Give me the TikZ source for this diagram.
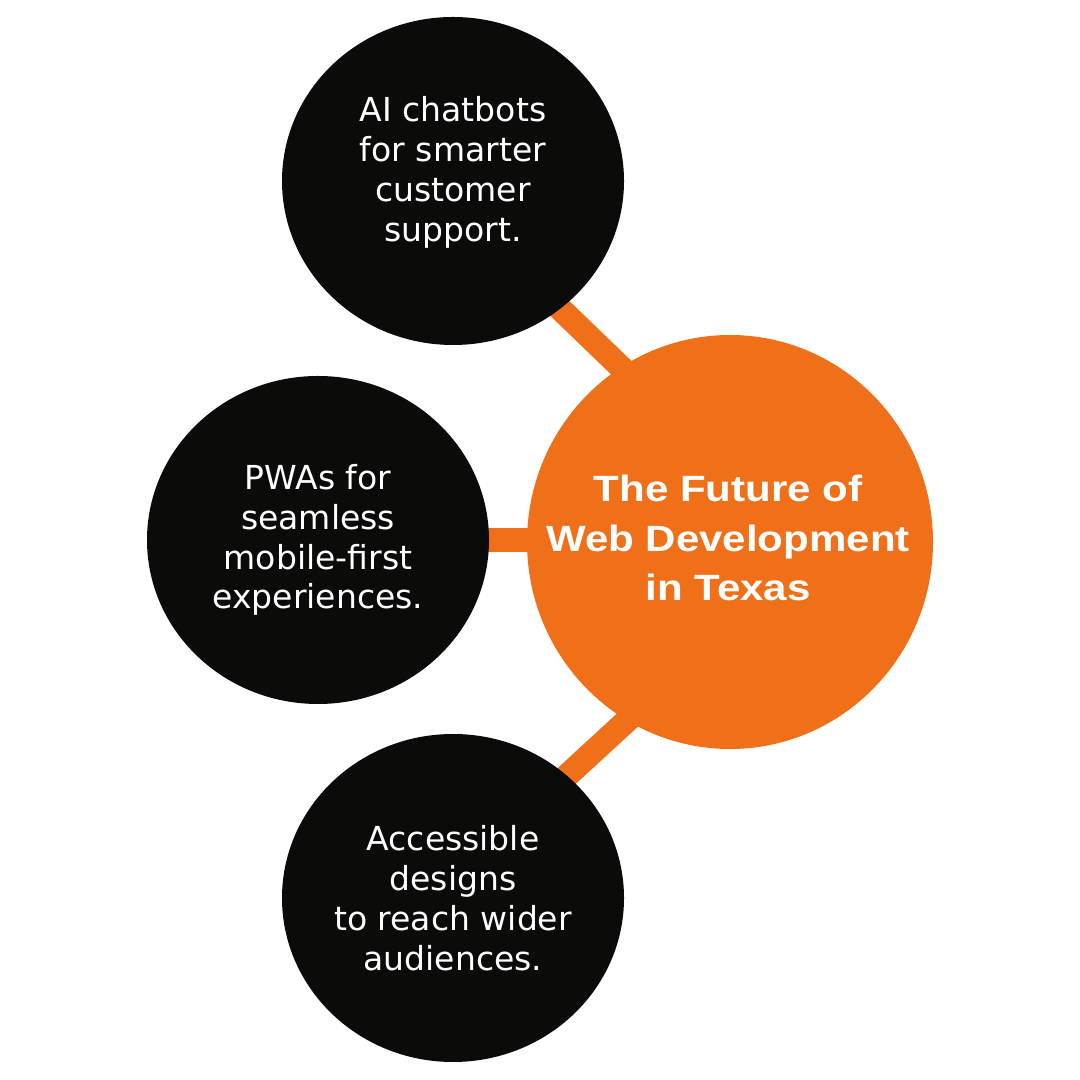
\documentclass[tikz,border=0pt]{standalone}
\usepackage{fontspec}
\setmainfont{DejaVu Sans}
\newfontfamily\hubfont[FakeStretch=1.15]{Liberation Sans}
\usetikzlibrary{positioning}
\usetikzlibrary{shapes.geometric}
\usetikzlibrary{backgrounds}
\definecolor{morange}{RGB}{240,112,26}
\definecolor{mblack}{RGB}{11,11,10}

\begin{document}
\begin{tikzpicture}[bubble/.style={ellipse, fill=mblack, text=white, inner sep=0pt, minimum width=8.55cm, minimum height=8.2cm, align=center, font=\fontsize{23.5}{28.4}\selectfont},
    hub/.style={ellipse, fill=morange, inner sep=0pt, minimum width=10.15cm, minimum height=10.35cm},
    hubtext/.style={text=white, align=center, font=\hubfont\bfseries\fontsize{26}{35.4}\selectfont},
    link/.style={line width=17pt, morange, shorten <=-0.4cm, shorten >=-0.4cm},
]
\useasboundingbox (0,0) rectangle (27,27);

\node[hub, label={[hubtext, yshift=0.1cm, xshift=-0.05cm]center:{The Future of\\Web Development\\in Texas}}] (hub) at (18.25,13.45) {};
\node[left of=hub, bubble, xshift=-9.3cm, yshift=0.05cm] (pwa) {PWAs for\\seamless\\mobile-first\\experiences.};
\node[above of=pwa, bubble, xshift=3.375cm, yshift=7.975cm] (chat) {\raisebox{0.18cm}[\height][\depth]{\begin{tabular}{@{}c@{}}AI chatbots\\for smarter\\customer\\support.\end{tabular}}};
\node[below of=pwa, bubble, xshift=3.375cm, yshift=-7.95cm] (access) {Accessible\\designs\\to reach wider\\audiences.};

\begin{scope}[on background layer]
\fill[white] (0,0) rectangle (27,27);
\draw[link] (chat.-50) -- (hub.122);
\draw[link] (pwa.east) -- (pwa.east -| hub.west);
\draw[link] (access.47) -- (hub.240);
\end{scope}

\end{tikzpicture}
\end{document}
